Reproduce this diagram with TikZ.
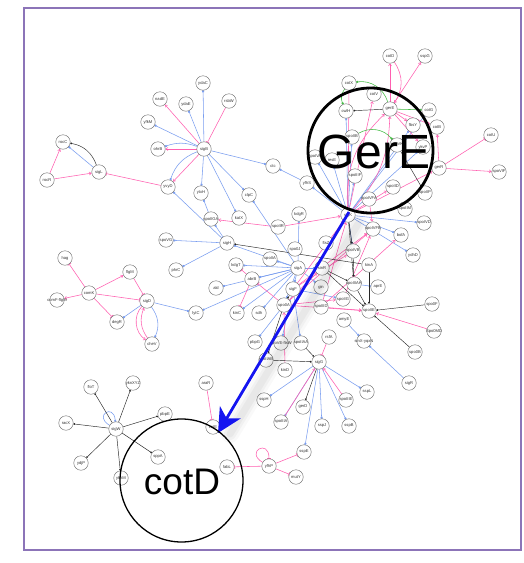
\documentclass[tikz,border=0pt]{standalone}
\usepackage{fontspec}
\setmainfont{Liberation Sans}
\usetikzlibrary{arrows.meta}
\pgfdeclarelayer{bg}
\pgfsetlayers{bg,main}
\definecolor{frame}{HTML}{8C74B8}
\definecolor{actc}{HTML}{7A9EF0}
\definecolor{pinkc}{HTML}{FF5FB0}
\definecolor{grnc}{HTML}{44BB44}
\definecolor{bigblue}{HTML}{1414F0}
\tikzset{
  gn/.style={circle, draw=black!60, fill=white, minimum size=14.5pt, inner sep=0pt, line width=0.4pt},
  lab/.style={font=\fontsize{4.1}{4.5}\selectfont, inner sep=0pt, text=black!80},
  act/.style={draw=actc, line width=0.55pt, -{Square[length=1.8pt,width=1.8pt]}},
  pact/.style={draw=pinkc, line width=0.55pt, -{Straight Barb[length=2pt,width=3pt]}},
  inh/.style={draw=pinkc, line width=0.55pt, -{Bar[width=4pt]}},
  blk/.style={draw=black!85, line width=0.45pt, -{Circle[length=1.8pt]}},
  grn/.style={draw=grnc, line width=0.55pt, -{Square[length=1.8pt,width=1.8pt]}},
}
\newcommand{\gnode}[4]{\node[gn, label={[lab]center:#4}] (#1) at (#2,#3) {};}
\begin{document}
\begin{tikzpicture}[x=1pt,y=-1pt]
\useasboundingbox (0,0) rectangle (524,563);
\begin{pgfonlayer}{bg}
\fill[white] (0,0) rectangle (524,563);
\end{pgfonlayer}
\draw[frame, line width=2pt] (24,8) rectangle (521,550);

% sigB / sigL group
\gnode{ydaC}{203}{83}{ydaC}
\gnode{nadE}{160}{99}{nadE}
\gnode{ydaE}{186}{104}{ydaE}
\gnode{rsbW}{229}{101}{rsbW}
\gnode{yfkM}{148}{122}{yfkM}
\gnode{ohrB}{158}{149}{ohrB}
\gnode{sigB}{204}{149}{sigB}
\gnode{rocC}{63}{142}{rocC}
\gnode{sigL}{99}{172}{sigL}
\gnode{rocR}{47}{180}{rocR}
\gnode{yvyD}{168}{187}{yvyD}
\gnode{ctc}{273}{166}{ctc}
\gnode{ytxH}{201}{193}{ytxH}
\gnode{clpC}{249}{195}{clpC}
% sigH / sigA group
\gnode{spoIIGA}{211}{219}{spoIIGA}
\gnode{katX}{239}{218}{katX}
\gnode{spoIIR}{278}{227}{spoIIR}
\gnode{kdgR}{299}{214}{kdgR}
\gnode{sigH}{227}{243}{sigH}
\gnode{spoVG}{166}{240}{spoVG}
\gnode{phrC}{176}{270}{phrC}
\gnode{spoOJ}{295}{249}{spo0J}
\gnode{spoIIA}{270}{259}{spoIIA}
\gnode{kdgT}{236}{265}{kdgT}
\gnode{abrB}{252}{279}{abrB}
\gnode{ald}{216}{288}{ald}
\gnode{sigA}{298}{268}{sigA}
\gnode{sigF}{293}{289}{sigF}
\gnode{sinR}{322}{268}{sinR}
\gnode{ftsZ}{326}{243}{ftsZ}
\gnode{gin}{321}{287}{gin}
\gnode{kinC}{237}{313}{kinC}
\gnode{sdh}{259}{313}{sdh}
\gnode{spoOA}{284}{305}{spo0A}
\gnode{spoIIID}{321}{307}{spoIIID}
\gnode{spoIIG}{343}{299}{spoIIG}
\gnode{amyE}{344}{320}{amyE}
% sigE / sigK region
\gnode{spoIVFA}{369}{199}{spoIVFA}
\gnode{spoIID}{393}{187}{spoIID}
\gnode{spoIIP}{425}{193}{spoIIP}
\gnode{spoIIM}{405}{209}{spoIIM}
\gnode{spoIVD}{424}{223}{spoIVD}
\gnode{spoIVFB}{373}{229}{spoIVFB}
\gnode{bofA}{401}{235}{bofA}
\gnode{ydhD}{413}{255}{ydhD}
\gnode{spoIVB}{353}{251}{spoIVB}
\gnode{kinA}{369}{265}{kinA}
\gnode{spoIIIAH}{354}{284}{spoIIIAH}
\gnode{aprE}{378}{287}{aprE}
\gnode{spoOF}{432}{304}{spo0F}
\gnode{spoIIE}{369}{311}{spoIIE}
\gnode{spoOMD}{434}{331}{Spo0MD}
\gnode{spoOB}{415}{352}{spo0B}
\gnode{sinX}{364}{341}{sinX-yqxN}
\gnode{sigR}{409}{383}{sigR}
\gnode{sspL}{367}{392}{sspL}
% sigG group
\gnode{pbpG}{255}{342}{pbpG}
\gnode{spoVE}{281}{343}{spoVE-ftsW}
\gnode{spoIIAA}{301}{343}{spoIIAA}
\gnode{rsfA}{329}{337}{rsfA}
\gnode{spoIIAB}{266}{360}{spoIIAB}
\gnode{sigG}{319}{362}{sigG}
\gnode{kinD}{285}{370}{kinD}
\gnode{araR}{206}{383}{araR}
\gnode{sspH}{264}{400}{sspH}
\gnode{gerD}{303}{407}{gerD}
\gnode{spoIIIE}{346}{400}{spoIIIE}
\gnode{spoIIIA}{281}{422}{spoIIIA}
\gnode{sspJ}{322}{426}{sspJ}
\gnode{sspB}{349}{426}{sspB}
\gnode{sspE}{304}{452}{sspE}
\gnode{yfhP}{269}{466}{yfhP}
\gnode{mutY}{296}{477}{mutY}
\gnode{fabL}{227}{467}{fabL}
\gnode{cotE}{213}{427}{cotE}
% sigW group
\gnode{sigW}{116}{429}{sigW}
\gnode{floT}{91}{387}{floT}
\gnode{yknXYZ}{133}{383}{yknXYZ}
\gnode{pbpE}{165}{414}{pbpE}
\gnode{racX}{66}{423}{racX}
\gnode{sppA}{158}{457}{sppA}
\gnode{ydjP}{81}{463}{ydjP}
\gnode{yknM}{121}{478}{yknM}
% sigD group
\gnode{hag}{65}{258}{hag}
\gnode{comK}{89}{293}{comK}
\gnode{comF}{57}{300}{comF-flgM}
\gnode{flgM}{130}{272}{flgM}
\gnode{sigD}{147}{301}{sigD}
\gnode{degR}{117}{322}{degR}
\gnode{cheV}{152}{344}{cheV}
\gnode{lytC}{196}{313}{lytC}
% gerE group
\gnode{cotD}{390}{56}{cotD}
\gnode{sspG}{425}{56}{sspG}
\gnode{cotX}{349}{83}{cotX}
\gnode{cotV}{374}{94}{cotV}
\gnode{gerE}{390}{109}{gerE}
\gnode{cwlH}{346}{111}{cwlH}
\gnode{cotG}{429}{110}{cotG}
\gnode{fbsY}{413}{125}{fbsY}
\gnode{cotB}{437}{127}{cotB}
\gnode{spoIIB}{352}{137}{spoIIB}
\gnode{spoVK}{397}{145}{spoVK}
\gnode{ykvP}{423}{147}{ykvP}
\gnode{resE}{332}{160}{resE}
\gnode{spoIVA}{315}{157}{spoIVA}
\gnode{yfhS}{307}{183}{yfhS}
\gnode{spoIIIF}{355}{176}{spoIIIF}
\gnode{gerR}{439}{168}{gerR}
\gnode{cotU}{491}{135}{cotU}
\gnode{spoVIF}{499}{172}{spoVIF}
\gnode{sigK}{348}{215}{sigK}

\begin{pgfonlayer}{bg}
% activations (blue)
\foreach \a/\b in {sigB/ydaC, sigB/ydaE, sigB/yfkM, sigB/ytxH, sigB/ctc, sigB/clpC, sigB/katX,
  sigL/rocC, spoIIGA/ytxH, sigH/yvyD, sigH/spoVG, sigH/phrC, sigH/spoIIGA, sigA/sigH, sigA/kdgT,
  sigA/abrB, sigA/ald, sigA/kinC, sigA/lytC, sigA/spoIIA, sigA/kdgR, sigA/sigF, sigA/sinR, sigA/gin,
  sigA/spoOA, sigA/sdh, sigA/clpC, sigD/lytC, sigD/degR, yfhS/ctc, sigK/yfhS, sigK/spoIVA, sigK/resE,
  sigK/cwlH, sigK/spoIIIF, sigK/ydhD, sigK/spoIVD, sigK/fbsY, sigK/ykvP, sigK/cotG, sigK/spoIIB,
  spoOA/pbpG, sigF/spoIIAA, sigF/spoIIG, sigG/sspH, sigG/sspJ, sigG/sspB, sigG/sspL, sigG/spoIIIA,
  sigG/sspE, sigR/sinX, amyE/sinX, spoIIIAH/aprE, sigF/spoVE, sigK/bofA, sigK/spoIVB}
  \draw[act] (\a) -- (\b);
\draw[act] (sigB) to[bend right=25] (yvyD);
\draw[act] (sigB) to[bend right=20] (ohrB);
\draw[act] (sigD) to[bend left=30] (cheV);
\draw[act] (sigW) to[out=150,in=95,looseness=7] (sigW);
% activations (pink)
\foreach \a/\b in {sigB/nadE, sigB/ohrB, sigB/yvyD, rocR/sigL, rocR/rocC, comK/flgM, comK/comF,
  spoIIR/sigK, spoIIR/spoIIGA, gerE/cotD, gerE/sspG, gerE/fbsY, gerE/ykvP, gerE/cotB, gerR/cotB,
  gerR/spoVIF, spoOMD/spoIIE, spoOA/spoIVFB, sigF/spoIVFB, spoIIID/sigK, sigF/sigK, spoIIID/bofA,
  kinD/spoOA, spoIIIA/sigG, spoIIIE/sigG, sigK/cotV, sigK/cotX, spoIVFA/spoIVFB, sigK/gerR,
  spoOA/spoIIE, spoIIID/spoIIE, spoOA/sinR, sigF/spoIVB, spoIIG/spoIVFB, sigK/spoIID, spoOA/spoIIG}
  \draw[pact] (\a) -- (\b);
\draw[pact] (cotD) to[bend left=35] (gerE);
\draw[pact] (sigK) to[bend left=25] (gerE);
\draw[pact] (sigK) to[bend right=20] (gerE);
\draw[pact] (cheV) to[bend left=30] (sigD);
\draw[pact] (sigD) to[bend right=50] (cheV);
% repressions (pink)
\foreach \a/\b in {rsbW/sigB, yvyD/sigL, flgM/sigD, comK/sigD, comK/hag, comK/degR, abrB/kinC,
  abrB/kdgT, spoOA/abrB, rsfA/sigG, araR/cotE, yfhP/fabL, yfhP/sspE, yfhP/mutY, gerR/cotU}
  \draw[inh] (\a) -- (\b);
\draw[inh] (yfhP) to[out=150,in=90,looseness=7] (yfhP);
% black links
\foreach \a/\b in {kinA/sigH, gerE/cwlH, sigK/spoIVB, spoIVB/spoIIIAH, spoOF/spoIIE, spoOB/spoIIE,
  kinA/spoIIE, spoIIIAH/spoIIE, sinR/spoIIE, spoIIAB/sigG, sigG/gerD, sigF/spoOA, spoOA/spoIIAB,
  sigW/floT, sigW/yknXYZ, sigW/pbpE, sigW/racX, sigW/sppA, sigW/ydjP, sigW/yknM, sigK/spoIIIAH,
  sinR/spoIIIAH, spoVK/spoIIP, spoIIAA/sigG}
  \draw[blk] (\a) -- (\b);
\draw[blk] (sigL) to[bend right=30] (rocC);
% green links
\draw[grn] (gerE) to[bend right=40] (cotX);
\draw[grn] (gerE) -- (cotG);
\draw[grn] (spoIIB) to[bend left=40] (spoVK);
\draw[grn] (cotX) to[bend right=30] (cwlH);
\end{pgfonlayer}

% soft shadow under the pointer
\foreach \w/\o in {18/0.025, 12/0.03, 7/0.035}
  \draw[line width=\w pt, black, opacity=\o, line cap=round] (358,224) -- (230,434);
% pointer and callout circles
\coordinate (pstart) at (349,212);
\coordinate (ptip) at (218,433);
\draw[bigblue, line width=2.8pt, -{Stealth[length=24pt,width=24pt,inset=7pt]}] (pstart) -- (ptip);
\draw[black, line width=2.8pt] (370.5,150.5) circle (62.5);
\node[font=\fontsize{48}{50}\selectfont, inner sep=0pt] (bigGerE) at (374,152) {GerE};
\draw[black, line width=1.3pt] (181.5,480.5) circle (61.5);
\node[font=\fontsize{37}{40}\selectfont, inner sep=0pt] (bigcotD) at (182,482) {cotD};
\end{tikzpicture}
\end{document}
